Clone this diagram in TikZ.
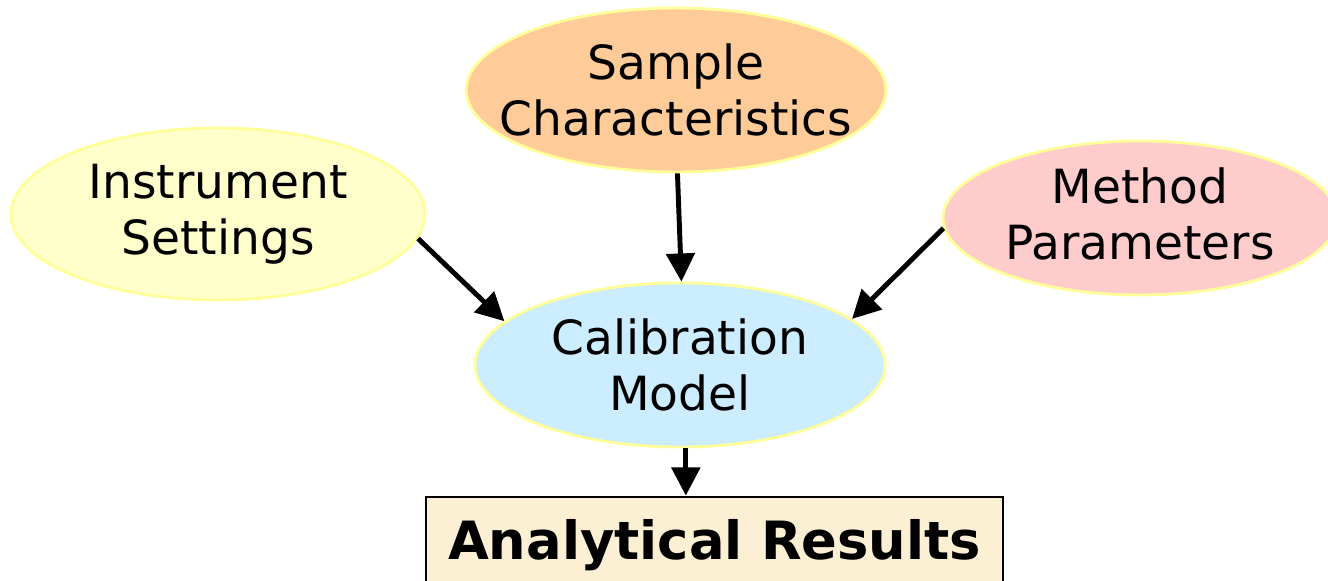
\documentclass[tikz,border=0pt]{standalone}
\usepackage{fontspec}
\setmainfont{DejaVu Sans}
\usetikzlibrary{shapes.geometric,arrows.meta}
\definecolor{edgeyellow}{HTML}{FFFF99}
\definecolor{sampfill}{HTML}{FFCC99}
\definecolor{instfill}{HTML}{FFFFCC}
\definecolor{methfill}{HTML}{FFCCCC}
\definecolor{calfill}{HTML}{CCECFF}
\definecolor{resfill}{HTML}{FCF0D4}
\tikzset{
  oval/.style={ellipse, draw=edgeyellow, line width=0.8pt, inner sep=0pt},
  ovaltext/.style={align=center, inner sep=0pt, font=\fontsize{13.4}{16}\selectfont},
  resbox/.style={rectangle, draw=black, line width=0.8pt, fill=resfill, inner sep=0pt,
    font=\fontsize{15}{18}\selectfont\bfseries},
  conn/.style={line width=1.4pt, -{Triangle[length=8pt,width=8pt]}}
}
\begin{document}
\begin{tikzpicture}[x=1cm,y=1cm]
\useasboundingbox (0,0) rectangle (13.28,5.81);
\node[oval, fill=sampfill, minimum width=4.2cm, minimum height=1.64cm,
  label={[ovaltext]center:Sample\\Characteristics}] (samp) at (6.76,4.91) {};
\node[oval, fill=instfill, minimum width=4.14cm, minimum height=1.72cm,
  label={[ovaltext]center:Instrument\\Settings}] (inst) at (2.18,3.67) {};
\node[oval, fill=methfill, minimum width=3.94cm, minimum height=1.54cm,
  label={[ovaltext, yshift=0.04cm]center:Method\\Parameters}] (meth) at (11.40,3.63) {};
\node[oval, fill=calfill, minimum width=4.10cm, minimum height=1.64cm,
  label={[ovaltext]center:Calibration\\Model}] (cal) at (6.80,2.16) {};
\node[resbox, minimum width=5.77cm, minimum height=1.0cm,
  label={[font=\fontsize{15}{18}\selectfont\bfseries, yshift=0.02cm]center:Analytical Results}] (res) at (7.145,0.34) {};
\draw[conn] (samp.-89) -- (cal.89);
\draw[conn] (inst.-7.5) -- (cal.166);
\draw[conn] (meth.183.5) -- (cal.15);
\draw[conn] (cal.-86) -- (cal.-86 |- res.north);
\end{tikzpicture}
\end{document}
